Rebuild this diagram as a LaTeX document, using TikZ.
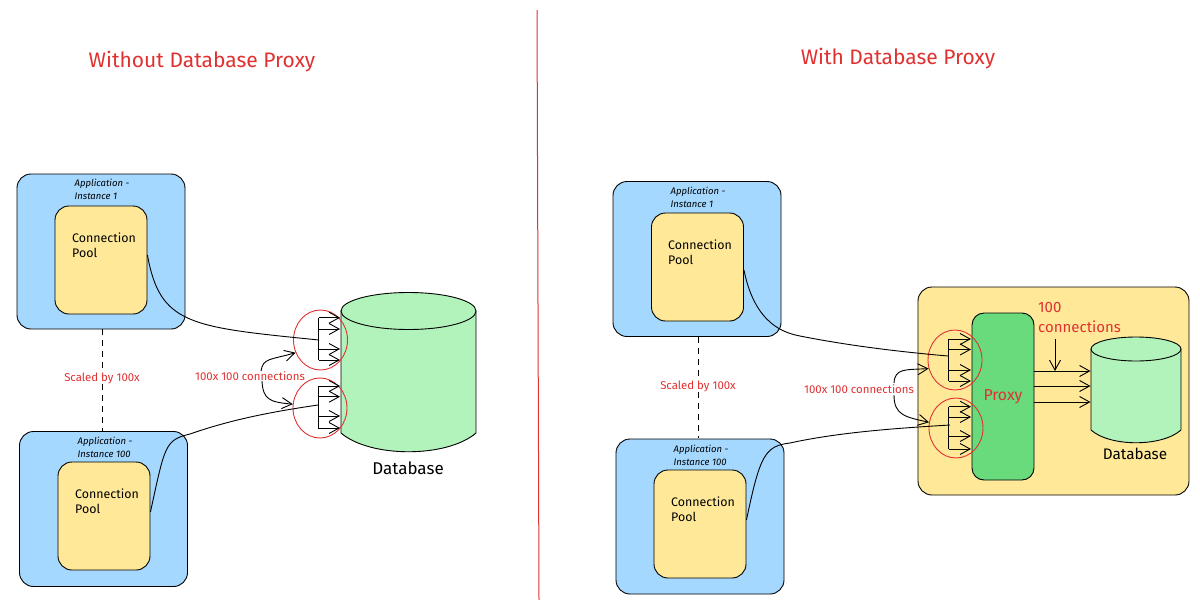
\documentclass[tikz,border=0pt]{standalone}
\usepackage{fontspec}
\usepackage{tikz}
\usetikzlibrary{arrows.meta,shapes.geometric}
\setmainfont{Fira Sans}
\definecolor{boxblue}{HTML}{A5D8FF}
\definecolor{boxyellow}{HTML}{FFE999}
\definecolor{dbgreen}{HTML}{B2F2BB}
\definecolor{proxygreen}{HTML}{69DB7C}
\definecolor{inkred}{HTML}{E03131}
\tikzset{
    appbox/.style={draw=black, fill=boxblue, line width=0.9pt, rounded corners=14pt, minimum width=168pt, minimum height=155pt, inner sep=0pt},
    poolbox/.style={draw=black, fill=boxyellow, line width=0.9pt, rounded corners=14pt, minimum width=92pt, minimum height=108pt, inner sep=0pt},
    dbbody/.style={draw=black, fill=dbgreen, line width=0.9pt},
    dbtop/.style={draw=black, fill=dbgreen, line width=0.9pt, ellipse, inner sep=0pt},
    ring/.style={draw=inkred, ellipse, line width=0.9pt, minimum width=54pt, minimum height=60pt, inner sep=0pt},
    wire/.style={draw=black, line width=0.9pt},
    dashwire/.style={wire, dash pattern=on 6pt off 5pt},
    barb/.style={black, line width=0.9pt, -{Straight Barb[length=10pt,width=11pt]}},
    title/.style={text=inkred, font=\fontsize{21}{25}\selectfont},
    redsmall/.style={text=inkred, font=\fontsize{11.4}{14}\selectfont},
    applabel/.style={font=\itshape\fontsize{9.5}{13}\selectfont, align=left},
    poollabel/.style={font=\fontsize{12.4}{14.5}\selectfont, align=left},
    dblabel/.style={font=\fontsize{17}{20}\selectfont}
}
\begin{document}
\begin{tikzpicture}[x=1pt,y=-1pt]
    \useasboundingbox (0,0) rectangle (1200,600);

    % divider
    \coordinate (divtop) at (537,10);
    \coordinate (divbot) at (539,600);
    \draw[inkred, line width=1pt] (divtop) -- (divbot);

    % titles
    \node[title] (titleleft) at (202,62) {Without Database Proxy};
    \node[title] (titleright) at (898,59) {With Database Proxy};

    % left side
    \node[appbox] (appa) at (101,251.5) {};
    \node[poolbox] (poola) at (101,260) {};
    \node[applabel] (appatext) at (102,189) {Application -\\Instance 1};
    \node[poollabel, anchor=north west, inner sep=0pt] (poolatext) at (72,233) {Connection\\Pool};
    \node[appbox] (appb) at (103.5,509) {};
    \node[poolbox] (poolb) at (104,516) {};
    \node[applabel] (appbtext) at (105,447) {Application -\\Instance 100};
    \node[poollabel, anchor=north west, inner sep=0pt] (poolbtext) at (75,489) {Connection\\Pool};
    \draw[dashwire] ([xshift=1pt]appa.south) -- (102,431);
    \node[redsmall, fill=white, inner sep=1pt] (scalea) at (102,378) {Scaled by 100x};

    \draw[dbbody] (341,311) -- (341,433) .. controls (370,458) and (447,458) .. (476,433) -- (476,311) -- cycle;
    \node[dbtop, minimum width=135pt, minimum height=37pt] (dba) at (408.5,311) {};
    \node[dblabel] (dbatext) at (408,468) {Database};

    \node[ring] (ringa) at (320.5,340) {};
    \node[ring] (ringb) at (320,408) {};
    \coordinate (hooka) at (319,340);
    \coordinate (hookb) at (318,405);

    \draw[wire] (poola.east |- 0,255) .. controls (160,325) and (190,327) .. (hooka);
    \draw[wire] (poolb.east |- 0,512) .. controls (165,445) and (165,440) .. (190,434) .. controls (230,420) and (270,412) .. (hookb);

    \foreach \k/\yy in {1/317.7,2/329,3/349,4/360} {
        \coordinate (faa\k) at (318.5,\yy);
        \coordinate (tia\k) at (340,\yy);
        \draw[barb] (faa\k) -- (tia\k);
    }
    \draw[wire] (faa1) -- (faa4);
    \foreach \k/\yy in {1/386,2/396.7,3/416,4/428} {
        \coordinate (fab\k) at (318,\yy);
        \coordinate (tib\k) at (340,\yy);
        \draw[barb] (fab\k) -- (tib\k);
    }
    \draw[wire] (fab1) -- (fab4);

    \node[redsmall] (connsa) at (250,376) {100x 100 connections};
    \coordinate (tapa) at (261,371);
    \coordinate (tapb) at (262,381);
    \draw[barb] (tapa) .. controls (263,358) and (270,360) .. (ringa.207);
    \draw[barb] (tapb) .. controls (263,400) and (270,402) .. (ringb.172);

    % right side
    \node[appbox] (appc) at (697,259) {};
    \node[poolbox] (poolc) at (697.5,267) {};
    \node[applabel] (appctext) at (698,197) {Application -\\Instance 1};
    \node[poollabel, anchor=north west, inner sep=0pt] (poolctext) at (668,240) {Connection\\Pool};
    \node[appbox] (appd) at (700,516.5) {};
    \node[poolbox] (poold) at (700,524) {};
    \node[applabel] (appdtext) at (701,455) {Application -\\Instance 100};
    \node[poollabel, anchor=north west, inner sep=0pt] (pooldtext) at (671,497) {Connection\\Pool};
    \draw[dashwire] ([xshift=1pt]appc.south) -- (698,438);
    \node[redsmall, fill=white, inner sep=1pt] (scaleb) at (698,386) {Scaled by 100x};

    \node[draw=black, fill=boxyellow, line width=0.9pt, rounded corners=14pt, minimum width=271pt, minimum height=208pt, inner sep=0pt] (host) at (1053.5,391) {};
    \node[draw=black, fill=proxygreen, line width=0.9pt, rounded corners=12pt, minimum width=62pt, minimum height=167pt, inner sep=0pt] (proxy) at (1003,396.5) {};
    \node[text=inkred, font=\fontsize{15.8}{18}\selectfont] (proxytext) at (1003,397) {Proxy};

    \draw[dbbody] (1091,349) -- (1091,430) .. controls (1110,447) and (1162,447) .. (1181,430) -- (1181,349) -- cycle;
    \node[dbtop, minimum width=90pt, minimum height=24pt] (dbb) at (1136,349) {};
    \node[font=\fontsize{15.3}{18}\selectfont] (dbbtext) at (1135,454) {Database};

    \node[ring] (ringc) at (955,360) {};
    \node[ring] (ringd) at (956,428) {};
    \coordinate (hookc) at (948,356);
    \coordinate (hookd) at (950,425);

    \draw[wire] (poolc.east |- 0,270) .. controls (755,325) and (785,333) .. (800,336) .. controls (840,344) and (890,351) .. (hookc);
    \draw[wire] (poold.east |- 0,520) .. controls (760,455) and (765,446) .. (790,443) .. controls (840,432) and (900,428) .. (hookd);

    \foreach \k/\yy in {1/339,2/349.5,3/370,4/381} {
        \coordinate (fac\k) at (948.7,\yy);
        \coordinate (tic\k) at (971,\yy);
        \draw[barb] (fac\k) -- (tic\k);
    }
    \draw[wire] (fac1) -- (fac4);
    \foreach \k/\yy in {1/406.7,2/417,3/436,4/449} {
        \coordinate (fad\k) at (948.5,\yy);
        \coordinate (tid\k) at (971,\yy);
        \draw[barb] (fad\k) -- (tid\k);
    }
    \draw[wire] (fad1) -- (fad4);

    \node[redsmall] (connsb) at (859,389) {100x 100 connections};
    \coordinate (tapc) at (894,383);
    \coordinate (tapd) at (894,395);
    \draw[barb] (tapc) .. controls (895,368) and (905,370) .. (ringc.198);
    \draw[barb] (tapd) .. controls (894,415) and (905,417) .. (ringd.168);

    % proxy to database
    \foreach \k/\yy in {1/371,2/386,3/402} {
        \coordinate (fae\k) at (proxy.east |- 0,\yy);
        \coordinate (tie\k) at (1090.5,\yy);
        \draw[barb] (fae\k) -- (tie\k);
    }
    \node[text=inkred, font=\fontsize{15}{20}\selectfont, align=left, anchor=north west, inner sep=0pt] (connsc) at (1038,302) {100\\connections};
    \coordinate (tapf) at (1055,339);
    \draw[barb] (tapf) -- (tapf |- fae1);
\end{tikzpicture}
\end{document}
